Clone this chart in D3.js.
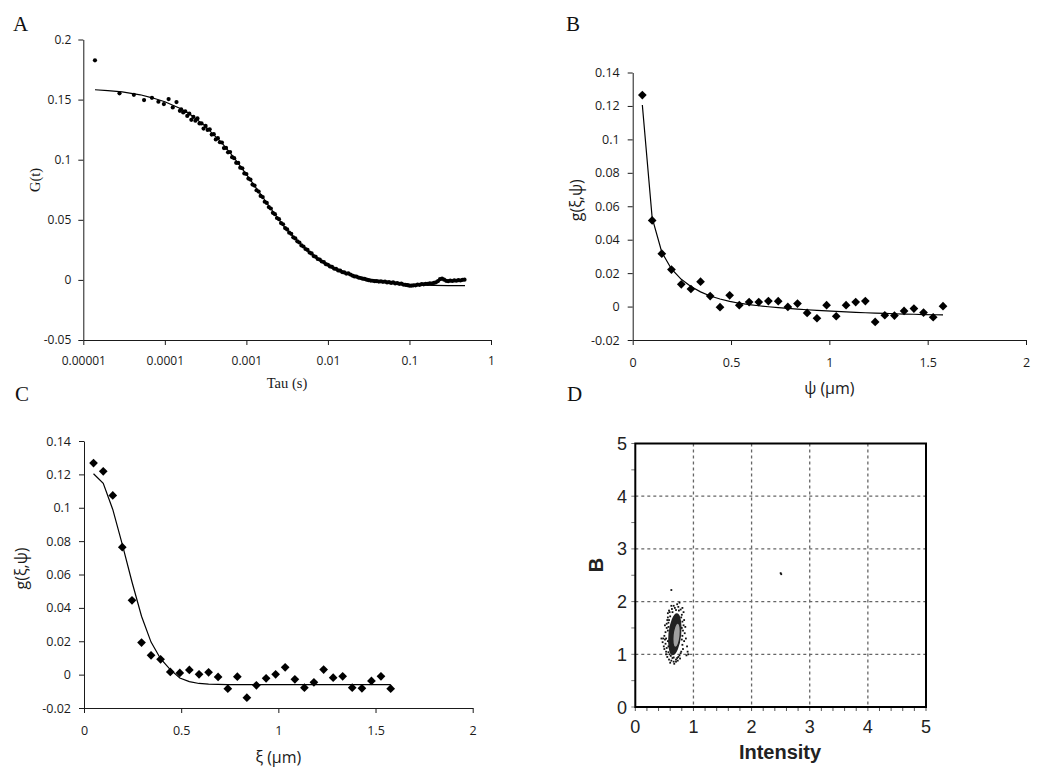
<!DOCTYPE html>
<html><head><meta charset="utf-8">
<script src="https://cdn.jsdelivr.net/npm/d3@7"></script>
<style>body{margin:0;background:#fff}svg{display:block}</style>
</head><body>
<svg id="c" width="1050" height="779"></svg>
<script>
// ---------- Panel A data ----------
const tickValsA = [1e-5, 1e-4, 1e-3, 1e-2, 1e-1, 1];
const tickLabelsA = ["0.00001", "0.0001", "0.001", "0.01", "0.1", "1"];
const yTicksA = [-0.05, 0, 0.05, 0.1, 0.15, 0.2];
const tauA = [
  1.39e-5, 2.78e-5, 4.17e-5, 5.56e-5, 6.95e-5, 8.34e-5, 9.73e-5, 1.112e-4, 1.251e-4, 1.39e-4, 1.529e-4,
  1.585e-4, 1.679e-4, 1.778e-4, 1.884e-4, 1.995e-4, 2.113e-4, 2.239e-4, 2.371e-4, 2.512e-4, 2.661e-4,
  2.818e-4, 2.985e-4, 3.162e-4, 3.350e-4, 3.548e-4, 3.758e-4, 3.981e-4, 4.217e-4, 4.467e-4, 4.732e-4,
  5.012e-4, 5.309e-4, 5.623e-4, 5.957e-4, 6.310e-4, 6.683e-4, 7.079e-4, 7.499e-4, 7.943e-4, 8.414e-4,
  8.913e-4, 9.441e-4,
  1.000e-3, 1.059e-3, 1.122e-3, 1.189e-3, 1.259e-3, 1.334e-3, 1.413e-3, 1.496e-3, 1.585e-3, 1.679e-3,
  1.778e-3, 1.884e-3, 1.995e-3, 2.113e-3, 2.239e-3, 2.371e-3, 2.512e-3, 2.661e-3, 2.818e-3, 2.985e-3,
  3.162e-3, 3.350e-3, 3.548e-3, 3.758e-3, 3.981e-3, 4.217e-3, 4.467e-3, 4.732e-3, 5.012e-3, 5.309e-3,
  5.623e-3, 5.957e-3, 6.310e-3, 6.683e-3, 7.079e-3, 7.499e-3, 7.943e-3, 8.414e-3, 8.913e-3, 9.441e-3,
  1.000e-2, 1.059e-2, 1.122e-2, 1.189e-2, 1.259e-2, 1.334e-2, 1.413e-2, 1.496e-2, 1.585e-2, 1.679e-2,
  1.778e-2, 1.884e-2, 1.995e-2, 2.113e-2, 2.239e-2, 2.371e-2, 2.512e-2, 2.661e-2, 2.818e-2, 2.985e-2,
  3.162e-2, 3.350e-2, 3.548e-2, 3.758e-2, 3.981e-2, 4.217e-2, 4.467e-2, 4.732e-2, 5.012e-2, 5.309e-2,
  5.623e-2, 5.957e-2, 6.310e-2, 6.683e-2, 7.079e-2, 7.499e-2, 7.943e-2, 8.414e-2, 8.913e-2, 9.441e-2,
  0.1000, 0.1059, 0.1122, 0.1189, 0.1259, 0.1334, 0.1413, 0.1496, 0.1585, 0.1679,
  0.1778, 0.1884, 0.1995, 0.2113, 0.2239, 0.2371, 0.2512, 0.2661, 0.2818, 0.2985,
  0.3162, 0.3350, 0.3548, 0.3758, 0.3981, 0.4217, 0.4467, 0.4732
];
const gA = [
  0.1827, 0.1552, 0.1540, 0.1496, 0.1515, 0.1482, 0.1463, 0.1504, 0.1435, 0.1479, 0.1407,
  0.1419, 0.1393, 0.1403, 0.1364, 0.1383, 0.1332, 0.1356, 0.1324, 0.1343, 0.1302,
  0.1302, 0.1259, 0.1281, 0.1248, 0.1253, 0.1209, 0.1212, 0.1169, 0.1179, 0.1145,
  0.1143, 0.1097, 0.1098, 0.1061, 0.1064, 0.1021, 0.1013, 0.0974, 0.0973, 0.0934,
  0.0929, 0.0886,
  0.0881, 0.0843, 0.0835, 0.0793, 0.0785, 0.0746, 0.0735, 0.0699, 0.0689, 0.0650,
  0.0640, 0.0606, 0.0594, 0.0558, 0.0547, 0.0515, 0.0505, 0.0473, 0.0463, 0.0431,
  0.0420, 0.0393, 0.0383, 0.0354, 0.0345, 0.0321, 0.0311, 0.0287, 0.0278, 0.0257,
  0.0249, 0.0227, 0.0220, 0.0198, 0.0192, 0.0174, 0.0169, 0.0153, 0.0148, 0.0131,
  0.0126, 0.0112, 0.0108, 0.0094, 0.0091, 0.0079, 0.0077, 0.0065, 0.0062, 0.0053,
  0.0054, 0.0045, 0.0036, 0.0029, 0.0028, 0.0019, 0.0016, 0.0010, 0.0008, 0.0002,
  -0.0002, -0.0006, -0.0007, -0.0011, -0.0010, -0.0014, -0.0012, -0.0016, -0.0014, -0.0021,
  -0.0019, -0.0025, -0.0021, -0.0029, -0.0026, -0.0033, -0.0031, -0.0039, -0.0041, -0.0044,
  -0.0048, -0.0048, -0.0045, -0.0045, -0.0039, -0.0041, -0.0035, -0.0037, -0.0032, -0.0033,
  -0.0028, -0.0030, -0.0025, -0.0020, -0.0010, 0.0006, 0.0010, 0.0002, -0.0008, -0.0011,
  -0.0006, -0.0009, -0.0004, -0.0007, -0.0002, -0.0005, 0.0001, 0.0002
];
const tauFitA = [1.39e-5, 2e-5, 3e-5, 5e-5, 7e-5, 1e-4, 1.5e-4, 2e-4, 3e-4, 5e-4, 7e-4, 1e-3, 1.5e-3, 2e-3,
  3e-3, 5e-3, 7e-3, 1e-2, 1.5e-2, 2e-2, 3e-2, 5e-2, 7e-2, 0.1, 0.15, 0.2, 0.3, 0.48];
const gFitA = [0.1582, 0.1575, 0.1565, 0.1540, 0.1515, 0.1482, 0.1430, 0.1382, 0.1290, 0.1140, 0.1020, 0.0878,
  0.0712, 0.0592, 0.0430, 0.0275, 0.0192, 0.0125, 0.0065, 0.0036, 0.0006, -0.0016, -0.0028, -0.0037,
  -0.0043, -0.0045, -0.0047, -0.0048];

// ---------- Panels B and C data ----------
const distBC = [0.049, 0.099, 0.148, 0.197, 0.247, 0.296, 0.345, 0.394, 0.444, 0.493, 0.542, 0.592, 0.641,
  0.690, 0.740, 0.789, 0.838, 0.887, 0.937, 0.986, 1.035, 1.085, 1.134, 1.183, 1.233, 1.282, 1.331, 1.380,
  1.430, 1.479, 1.528, 1.578];
const gB = [0.1265, 0.0515, 0.0316, 0.0221, 0.0133, 0.0105, 0.0149, 0.0063, -0.0004, 0.0067, 0.0008, 0.0027,
  0.0027, 0.0033, 0.0032, -0.0002, 0.0018, -0.0038, -0.0070, 0.0008, -0.0058, 0.0008, 0.0027, 0.0033,
  -0.0092, -0.0052, -0.0054, -0.0026, -0.0012, -0.0036, -0.0064, 0.0002];
const gFitB = [0.1206, 0.0530, 0.0325, 0.0225, 0.0163, 0.0120, 0.0088, 0.0063, 0.0045, 0.0031, 0.0020, 0.0012,
  0.0005, -0.0001, -0.0006, -0.0011, -0.0015, -0.0019, -0.0023, -0.0026, -0.0029, -0.0032, -0.0035, -0.0037,
  -0.0039, -0.0041, -0.0043, -0.0045, -0.0046, -0.0048, -0.0049, -0.0050];
const gC = [0.1268, 0.1218, 0.1074, 0.0764, 0.0445, 0.0192, 0.0116, 0.0092, 0.0016, 0.0010, 0.0028, 0.0002,
  0.0014, -0.0014, -0.0084, -0.0012, -0.0138, -0.0064, -0.0022, 0.0002, 0.0044, -0.0028, -0.0078, -0.0046,
  0.0030, -0.0018, -0.0010, -0.0078, -0.0082, -0.0038, -0.0010, -0.0084];
const gFitC = [0.1204, 0.1146, 0.0990, 0.0780, 0.0555, 0.0350, 0.0195, 0.0095, 0.0030, -0.0020, -0.0042,
  -0.0053, -0.0057, -0.0059, -0.0060, -0.0060, -0.0060, -0.0060, -0.0060, -0.0060, -0.0060, -0.0060,
  -0.0060, -0.0060, -0.0060, -0.0060, -0.0060, -0.0060, -0.0060, -0.0060, -0.0060, -0.0060];
const xTicksBC = [0, 0.5, 1, 1.5, 2];
const yTicksBC = [-0.02, 0, 0.02, 0.04, 0.06, 0.08, 0.1, 0.12, 0.14];

// ---------- Panel D data ----------
const ticksD = [0, 1, 2, 3, 4, 5];
const gridD = [1, 2, 3, 4];
const clusterBody = {cx: 0.68, cy: 1.38, rx: 0.11, ry: 0.40};
const clusterCore = {cx: 0.71, cy: 1.36, rx: 0.05, ry: 0.22};
const scatterD = [
  [0.52,1.20],[0.50,1.35],[0.53,1.05],[0.55,0.95],[0.58,0.90],[0.62,0.88],[0.66,0.86],[0.70,0.90],
  [0.74,0.95],[0.78,1.02],[0.82,1.10],[0.84,1.25],[0.85,1.40],[0.83,1.55],[0.84,1.65],[0.80,1.75],
  [0.78,1.85],[0.74,1.90],[0.72,1.95],[0.68,1.88],[0.64,1.80],[0.60,1.72],[0.57,1.60],[0.54,1.50],
  [0.51,1.28],[0.49,1.15],[0.90,1.05],[0.88,0.98],[0.56,1.78],[0.62,1.92],[0.76,1.98],[0.81,1.88],
  [0.59,1.00],[0.64,0.93],[0.70,0.86],[0.77,0.92],[0.52,1.42],[0.55,1.65],[0.87,1.30],[0.86,1.52],
  [0.47,1.23],[0.58,1.83],[0.83,1.80],[0.60,0.84],[0.67,0.82],[0.73,0.88],[0.50,1.10],[0.48,1.30],
  [0.53,1.00],[0.54,1.12],[0.53,1.30],[0.54,1.58],[0.56,1.70],[0.59,1.80],[0.63,1.86],[0.66,1.92],
  [0.70,1.84],[0.75,1.83],[0.79,1.70],[0.81,1.62],[0.82,1.45],[0.81,1.35],[0.81,1.18],[0.79,1.05],
  [0.76,0.98],[0.72,0.93],[0.66,0.94],[0.61,0.97],[0.57,1.04],[0.56,1.25],[0.56,1.45],[0.57,1.52],
  [0.80,1.50],[0.80,1.28],[0.51,1.55],[0.89,1.15],[0.91,1.00],[0.45,1.30],[0.57,1.15],[0.58,1.65],
  [0.62,2.22],[2.50,2.54],[2.51,2.52]
];

// ---------- drawing ----------
const svg = d3.select("#c");
const INK = "#1a1a1a";
const TICKFONT = "'Open Sans', sans-serif";

function styleAxis(g, size) {
  g.select(".domain").attr("stroke", INK).attr("stroke-width", 1);
  g.selectAll(".tick line").attr("stroke", INK);
  g.selectAll(".tick text").attr("fill", INK).attr("font-family", TICKFONT).attr("font-size", size || 12);
}
function panelLetter(t, x, y) {
  svg.append("text").attr("x", x).attr("y", y).text(t)
    .attr("font-family", "'Liberation Serif', serif").attr("font-size", 21).attr("fill", "#111");
}
const fmtNum = d => String(+d.toFixed(4));

// Panel A
const xA = d3.scaleLog().domain([1e-5, 1]).range([83.3, 491]);
const yA = d3.scaleLinear().domain([-0.05, 0.2]).range([340, 39.5]);
svg.append("g").attr("transform", "translate(0,340)")
  .call(d3.axisBottom(xA).tickValues(tickValsA).tickFormat((d, i) => tickLabelsA[i]).tickSize(5).tickSizeOuter(0).tickPadding(11))
  .call(g => styleAxis(g));
svg.append("g").attr("transform", "translate(83.3,0)")
  .call(d3.axisLeft(yA).tickValues(yTicksA).tickFormat(fmtNum).tickSize(5).tickSizeOuter(0).tickPadding(7))
  .call(g => styleAxis(g));
svg.append("path").datum(tauFitA.map((t, i) => [t, gFitA[i]]))
  .attr("fill", "none").attr("stroke", "#000").attr("stroke-width", 1.2)
  .attr("d", d3.line().x(d => xA(d[0])).y(d => yA(d[1])));
svg.append("g").selectAll("circle").data(tauA.map((t, i) => [t, gA[i]])).join("circle")
  .attr("cx", d => xA(d[0])).attr("cy", d => yA(d[1])).attr("r", 2.1).attr("fill", "#000");
svg.append("text").attr("x", 287).attr("y", 388).attr("text-anchor", "middle").text("Tau (s)")
  .attr("font-family", "'Liberation Serif', serif").attr("font-size", 14.5).attr("fill", INK);
svg.append("text").attr("transform", "translate(40,180) rotate(-90)").attr("text-anchor", "middle").text("G(t)")
  .attr("font-family", "'Liberation Serif', serif").attr("font-size", 14.5).attr("fill", INK);
panelLetter("A", 13, 31);

// Panels B and C
function corrPanel(x0, x1, yTop, yBot, vals, fit, xTitle, titleY, yTitleX) {
  const x = d3.scaleLinear().domain([0, 2]).range([x0, x1]);
  const y = d3.scaleLinear().domain([-0.02, 0.14]).range([yBot, yTop]);
  svg.append("g").attr("transform", `translate(0,${yBot})`)
    .call(d3.axisBottom(x).tickValues(xTicksBC).tickFormat(fmtNum).tickSize(5).tickSizeOuter(0).tickPadding(13))
    .call(g => styleAxis(g, 12.5));
  svg.append("g").attr("transform", `translate(${x0},0)`)
    .call(d3.axisLeft(y).tickValues(yTicksBC).tickFormat(fmtNum).tickSize(5).tickSizeOuter(0).tickPadding(8))
    .call(g => styleAxis(g, 12.5));
  svg.append("path").datum(distBC.map((d, i) => [d, fit[i]]))
    .attr("fill", "none").attr("stroke", "#000").attr("stroke-width", 1.2)
    .attr("d", d3.line().x(d => x(d[0])).y(d => y(d[1])));
  svg.append("g").selectAll("path").data(distBC.map((d, i) => [d, vals[i]])).join("path")
    .attr("d", d3.symbol(d3.symbolSquare, 38)())
    .attr("transform", d => `translate(${x(d[0])},${y(d[1])}) rotate(45)`)
    .attr("fill", "#000");
  svg.append("text").attr("x", (x0 + x1) / 2).attr("y", titleY).attr("text-anchor", "middle").text(xTitle)
    .attr("font-family", TICKFONT).attr("font-size", 16).attr("fill", INK);
  svg.append("text").attr("transform", `translate(${yTitleX},${(yTop + yBot) / 2 - 6}) rotate(-90)`)
    .attr("text-anchor", "middle").text("g(ξ,ψ)")
    .attr("font-family", TICKFONT).attr("font-size", 16).attr("fill", INK);
}
corrPanel(632.7, 1026, 72.5, 340, gB, gFitB, "ψ (μm)", 394, 582);
panelLetter("B", 566, 31);
corrPanel(84, 472.7, 441, 708, gC, gFitC, "ξ (μm)", 763, 27);
panelLetter("C", 15, 401);

// Panel D
const xD = d3.scaleLinear().domain([0, 5]).range([635.3, 926]);
const yD = d3.scaleLinear().domain([0, 5]).range([707, 443.5]);
const gD = svg.append("g");
gD.selectAll("line.gx").data(gridD).join("line")
  .attr("x1", d => xD(d)).attr("x2", d => xD(d)).attr("y1", yD(5)).attr("y2", yD(0))
  .attr("stroke", "#666").attr("stroke-width", 1.3).attr("stroke-dasharray", "3,3");
gD.selectAll("line.gy").data(gridD).join("line")
  .attr("y1", d => yD(d)).attr("y2", d => yD(d)).attr("x1", xD(0)).attr("x2", xD(5))
  .attr("stroke", "#666").attr("stroke-width", 1.3).attr("stroke-dasharray", "3,3");
const minorX = d3.range(0, 5.01, 0.2);
gD.selectAll("line.mx").data(minorX).join("line")
  .attr("x1", d => xD(d)).attr("x2", d => xD(d)).attr("y1", yD(0)).attr("y2", yD(0) + 4)
  .attr("stroke", "#555").attr("stroke-width", 1);
const minorY = d3.range(0, 5.01, 0.5);
gD.selectAll("line.my").data(minorY).join("line")
  .attr("y1", d => yD(d)).attr("y2", d => yD(d)).attr("x1", xD(0) - 4).attr("x2", xD(0))
  .attr("stroke", "#777").attr("stroke-width", 1);
gD.append("ellipse").attr("cx", xD(clusterBody.cx)).attr("cy", yD(clusterBody.cy))
  .attr("rx", xD(clusterBody.rx) - xD(0)).attr("ry", yD(0) - yD(clusterBody.ry))
  .attr("transform", `rotate(6,${xD(clusterBody.cx)},${yD(clusterBody.cy)})`).attr("fill", "#222");
gD.append("ellipse").attr("cx", xD(clusterCore.cx)).attr("cy", yD(clusterCore.cy))
  .attr("rx", xD(clusterCore.rx) - xD(0)).attr("ry", yD(0) - yD(clusterCore.ry))
  .attr("transform", `rotate(6,${xD(clusterCore.cx)},${yD(clusterCore.cy)})`).attr("fill", "#a0a0a0");
gD.selectAll("rect.pt").data(scatterD).join("rect")
  .attr("x", d => xD(d[0]) - 0.9).attr("y", d => yD(d[1]) - 0.9).attr("width", 1.8).attr("height", 1.8)
  .attr("fill", "#111");
gD.append("rect").attr("x", xD(0)).attr("y", yD(5)).attr("width", xD(5) - xD(0)).attr("height", yD(0) - yD(5))
  .attr("fill", "none").attr("stroke", "#000").attr("stroke-width", 2);
gD.selectAll("text.tx").data(ticksD).join("text")
  .attr("x", d => xD(d)).attr("y", 733).attr("text-anchor", "middle").text(d => d)
  .attr("font-family", "'Liberation Sans', Arial, sans-serif").attr("font-size", 18).attr("fill", "#222");
gD.selectAll("text.ty").data(ticksD).join("text")
  .attr("x", 627).attr("y", d => yD(d) + 6.5).attr("text-anchor", "end").text(d => d)
  .attr("font-family", "'Liberation Sans', Arial, sans-serif").attr("font-size", 18).attr("fill", "#222");
gD.append("text").attr("x", 780).attr("y", 759).attr("text-anchor", "middle").text("Intensity")
  .attr("font-family", "'Liberation Sans', Arial, sans-serif").attr("font-size", 20).attr("font-weight", "bold").attr("fill", "#222");
gD.append("text").attr("transform", "translate(603,565) rotate(-90)").attr("text-anchor", "middle").text("B")
  .attr("font-family", "'Liberation Sans', Arial, sans-serif").attr("font-size", 20).attr("font-weight", "bold").attr("fill", "#222");
panelLetter("D", 567, 401);
</script>
</body></html>
